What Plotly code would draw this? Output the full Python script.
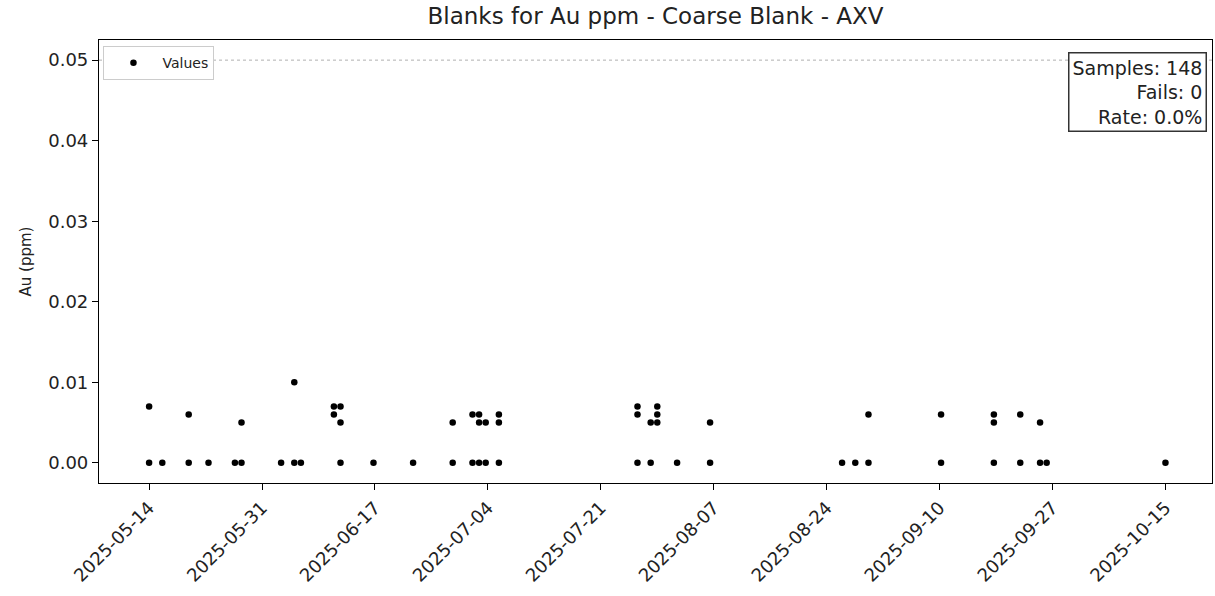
import pandas as pd
import plotly.graph_objects as go

# ---- data ----
dates = [
    "2025-05-14", "2025-05-14", "2025-05-16", "2025-05-20", "2025-05-20", "2025-05-23",
    "2025-05-27", "2025-05-28", "2025-05-28", "2025-06-03", "2025-06-05", "2025-06-05",
    "2025-06-06", "2025-06-11", "2025-06-11", "2025-06-12", "2025-06-12", "2025-06-12",
    "2025-06-17", "2025-06-23", "2025-06-29", "2025-06-29", "2025-07-02", "2025-07-02",
    "2025-07-03", "2025-07-03", "2025-07-03", "2025-07-04", "2025-07-04", "2025-07-06",
    "2025-07-06", "2025-07-06", "2025-07-27", "2025-07-27", "2025-07-27", "2025-07-29",
    "2025-07-29", "2025-07-30", "2025-07-30", "2025-07-30", "2025-08-02", "2025-08-07",
    "2025-08-07", "2025-08-27", "2025-08-29", "2025-08-31", "2025-08-31", "2025-09-11",
    "2025-09-11", "2025-09-19", "2025-09-19", "2025-09-19", "2025-09-23", "2025-09-23",
    "2025-09-26", "2025-09-26", "2025-09-27", "2025-10-15",
]
au_ppm = [
    0.007, 0.0, 0.0, 0.006, 0.0, 0.0,
    0.0, 0.005, 0.0, 0.0, 0.010, 0.0,
    0.0, 0.007, 0.006, 0.007, 0.005, 0.0,
    0.0, 0.0, 0.005, 0.0, 0.006, 0.0,
    0.006, 0.005, 0.0, 0.005, 0.0, 0.006,
    0.005, 0.0, 0.007, 0.006, 0.0, 0.005,
    0.0, 0.007, 0.006, 0.005, 0.0, 0.005,
    0.0, 0.0, 0.0, 0.006, 0.0, 0.006,
    0.0, 0.006, 0.005, 0.0, 0.006, 0.0,
    0.005, 0.0, 0.0, 0.0,
]
threshold = 0.05
n_samples = 148
n_fails = 0
fail_rate = 0.0
y_ticks = [0.0, 0.01, 0.02, 0.03, 0.04, 0.05]

title = "Blanks for Au ppm - Coarse Blank - AXV"
y_title = "Au (ppm)"

x = pd.to_datetime(dates)
start, end = x.min(), x.max()
tick_pos = pd.date_range(start, end, periods=10)
tick_text = [t.strftime("%Y-%m-%d") for t in tick_pos]
span = end - start
x_range = [start - span * 0.0493, end + span * 0.0458]

FONT = "DejaVu Sans"

fig = go.Figure()
fig.add_trace(go.Scatter(
    x=x, y=au_ppm, mode="markers", name="Values",
    marker=dict(color="black", size=6.5),
))

fig.add_shape(type="line", xref="paper", x0=0, x1=1, yref="y", y0=threshold, y1=threshold,
              line=dict(color="#b0b0b0", width=1, dash="dot"), layer="below")

fig.add_annotation(
    xref="paper", yref="paper", x=0.9955, y=0.973, xanchor="right", yanchor="top",
    text=f"Samples: {n_samples}<br>Fails: {n_fails}<br>Rate: {fail_rate:.1f}%",
    align="right", showarrow=False,
    font=dict(family=FONT, size=19, color="#222"),
    bgcolor="white", bordercolor="#333", borderwidth=1.5, borderpad=3,
)

fig.update_layout(
    width=1215, height=596,
    margin=dict(l=99, r=3, t=40, b=113),
    paper_bgcolor="white", plot_bgcolor="white",
    font=dict(family=FONT, color="#222"),
    title=dict(text=title, x=(99 + 1212) / 2 / 1215, xanchor="center",
               y=1 - 16 / 596, yanchor="middle", yref="container",
               font=dict(family=FONT, size=23, color="#222")),
    showlegend=True,
    legend=dict(x=0.004, y=0.986, xanchor="left", yanchor="top",
                bgcolor="white", bordercolor="#cccccc", borderwidth=1,
                font=dict(family=FONT, size=14, color="#222"), itemwidth=48),
    xaxis=dict(
        range=x_range, tickmode="array", tickvals=tick_pos, ticktext=tick_text,
        tickangle=-45, ticks="outside", ticklen=6, tickcolor="black",
        showline=True, linecolor="black", linewidth=1.2, mirror=True,
        showgrid=False, zeroline=False,
        tickfont=dict(family=FONT, size=18, color="#222"),
    ),
    yaxis=dict(
        range=[-0.0025, 0.0525], tickmode="array", tickvals=y_ticks,
        tickformat=".2f", ticks="outside", ticklen=6, tickcolor="black",
        showline=True, linecolor="black", linewidth=1.2, mirror=True,
        showgrid=False, zeroline=False,
        tickfont=dict(family=FONT, size=18, color="#222"),
        title=dict(text=y_title, font=dict(family=FONT, size=15, color="#222"), standoff=12),
    ),
)

fig.write_html("out.html", config={"displayModeBar": False},
               post_script="document.body.style.margin='0';")
